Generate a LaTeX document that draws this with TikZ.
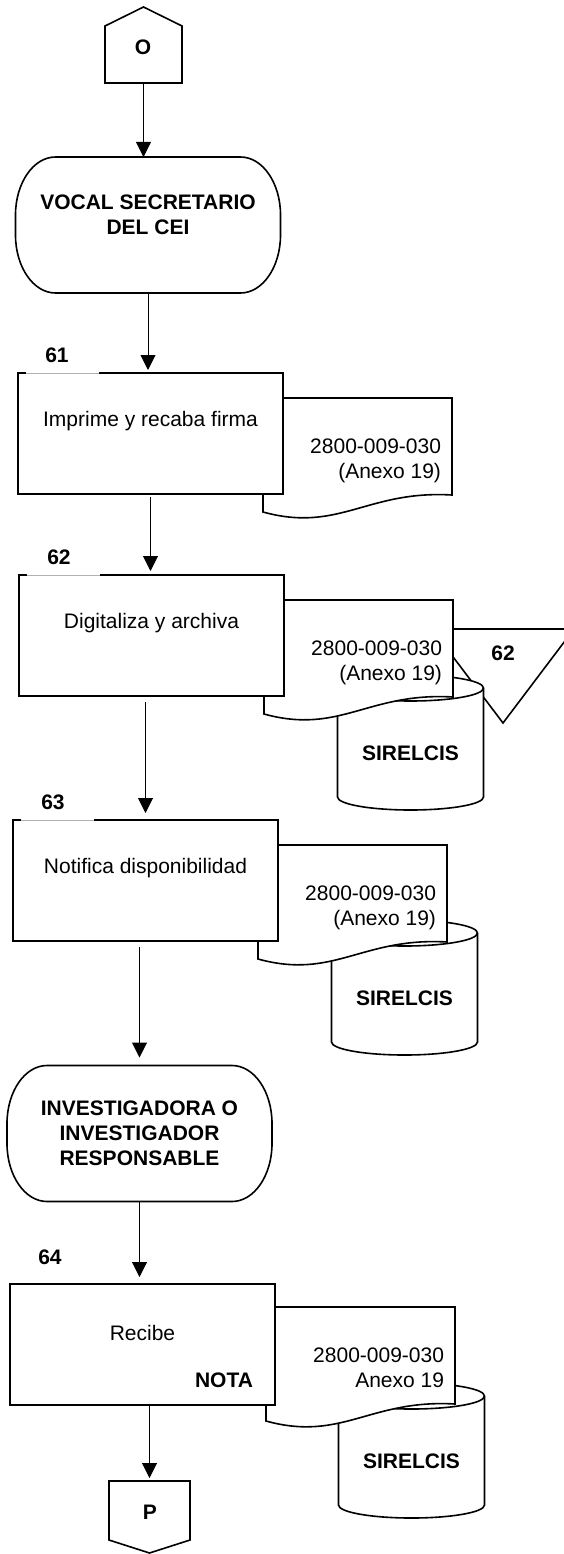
\documentclass[tikz,border=0pt]{standalone}
\usepackage{fontspec}
\setmainfont{Liberation Sans}
\usetikzlibrary{arrows.meta}

% outline of a terminator with elliptical corners
\newcommand\drawterminal[1]{%
  \draw[shapeline] ([xshift=40pt]#1.north west) -- ([xshift=-40pt]#1.north east)
    arc[start angle=90, end angle=0, x radius=40pt, y radius=58pt]
    -- ([yshift=58pt]#1.south east)
    arc[start angle=0, end angle=-90, x radius=40pt, y radius=58pt]
    -- ([xshift=40pt]#1.south west)
    arc[start angle=270, end angle=180, x radius=40pt, y radius=58pt]
    -- ([yshift=-58pt]#1.north west)
    arc[start angle=180, end angle=90, x radius=40pt, y radius=58pt] -- cycle;}
% document symbol with a wavy lower edge
\newcommand\drawdoc[1]{%
  \draw[shapeline] (#1.south east) -- (#1.north east) -- (#1.north west)
    -- ([yshift=-17pt]#1.south west)
    .. controls ([xshift=76pt,yshift=-38pt]#1.south west) and ([xshift=104pt,yshift=5pt]#1.south west) .. (#1.south east)
    -- cycle;}
% database cylinder
\newcommand\drawcyl[1]{%
  \draw[shapeline] ([yshift=13pt]#1.south west) -- ([yshift=-13pt]#1.north west)
    arc[start angle=180, end angle=0, x radius=73pt, y radius=13pt]
    -- ([yshift=13pt]#1.south east)
    arc[start angle=0, end angle=-180, x radius=73pt, y radius=13pt] -- cycle;
  \draw[shapeline, fill=none] ([yshift=-13pt]#1.north east)
    arc[start angle=0, end angle=-180, x radius=73pt, y radius=13pt];}
\newcommand\drawbox[1]{\draw[shapeline] (#1.north west) rectangle (#1.south east);}

\begin{document}
\begin{tikzpicture}[x=1pt, y=-1pt,
  every node/.style={inner sep=0pt, outer sep=0pt},
  box/.style={rectangle, minimum width=265pt, minimum height=121pt},
  docgeo/.style={rectangle, anchor=north west, minimum width=189pt, minimum height=97pt},
  cyl/.style={rectangle, minimum width=146pt, minimum height=135pt},
  term/.style={rectangle, minimum width=265pt, minimum height=136pt},
  shapeline/.style={draw=black, line width=1.6pt, fill=white},
  flow/.style={draw=black, line width=1pt, -{Triangle[width=15pt,length=15pt]}},
  bodytext/.style={font=\fontsize{21pt}{25pt}\selectfont},
  boldtext/.style={font=\fontsize{21pt}{25pt}\selectfont\bfseries},
  doctext/.style={bodytext, anchor=north east, align=right},
  gapline/.style={draw=gray!60, line width=0.6pt, preaction={draw=white, line width=2.4pt}}]

\useasboundingbox[fill=white] (0,0) rectangle (563,1554);

% ---- geometry of the symbols
\node[rectangle, minimum width=77pt, minimum height=76pt] (O) at (143.5,45) {};
\node[term] (vocal) at (148,225) {};
\node[box] (s61) at (150.5,433.5) {};
\node[docgeo] (d61) at (263,398) {};
\node[box] (s62) at (151.5,635.5) {};
\node[docgeo] (d62) at (264,600) {};
\node[cyl] (c62) at (410.5,742.5) {};
\node[rectangle, anchor=north west, minimum width=142pt, minimum height=94pt] (t62) at (432,629) {};
\node[box] (s63) at (145.5,880.5) {};
\node[docgeo] (d63) at (258,845) {};
\node[cyl] (c63) at (404.5,987.5) {};
\node[term] (inv) at (139.5,1133.5) {};
\node[box] (s64) at (142.5,1344.5) {};
\node[docgeo] (d64) at (266,1307) {};
\node[cyl] (c64) at (411.5,1450.5) {};
\node[rectangle, minimum width=81pt, minimum height=72pt] (P) at (149.5,1517) {};

% ---- outlines, back to front
\draw[shapeline] (O.south west) -- ([yshift=-19pt]O.north west) -- (O.north)
  -- ([yshift=-19pt]O.north east) -- (O.south east) -- cycle;
\drawterminal{vocal}
\drawdoc{d61}
\drawbox{s61}
\draw[shapeline] (t62.north west) -- (t62.north east) -- (t62.south) -- cycle;
\drawcyl{c62}
\drawdoc{d62}
\drawbox{s62}
\drawcyl{c63}
\drawdoc{d63}
\drawbox{s63}
\drawterminal{inv}
\drawcyl{c64}
\drawdoc{d64}
\drawbox{s64}
\draw[shapeline] (P.north west) -- (P.north east) -- ([yshift=13pt]P.south east)
  -- (P.south) -- ([yshift=13pt]P.south west) -- cycle;

% faded stretch of the box tops under the step numbers
\draw[gapline] ([xshift=8pt]s61.north west) -- ([xshift=81pt]s61.north west);
\draw[gapline] ([xshift=8pt]s62.north west) -- ([xshift=81pt]s62.north west);
\draw[gapline] ([xshift=8pt]s63.north west) -- ([xshift=81pt]s63.north west);

% ---- texts
\node[boldtext] (Ot) at (143,47) {O};
\node[boldtext, align=center] (vocalt) at ([yshift=10.5pt]vocal.center) {VOCAL SECRETARIO\\DEL CEI};

\node[boldtext] (n61) at ([xshift=39pt,yshift=18pt]s61.north west) {61};
\node[bodytext] (s61t) at ([yshift=12pt]s61.center) {Imprime y recaba firma};
\node[doctext] (d61t) at ([xshift=-11pt,yshift=-40.5pt]d61.north east) {2800-009-030\\(Anexo 19)};

\node[boldtext] (n62) at ([xshift=40pt,yshift=18pt]s62.north west) {62};
\node[bodytext] (s62t) at ([yshift=12pt]s62.center) {Digitaliza y archiva};
\node[doctext] (d62t) at ([xshift=-11pt,yshift=-40.5pt]d62.north east) {2800-009-030\\(Anexo 19)};
\node[boldtext] (t62t) at (503,653) {62};
\node[boldtext] (c62t) at ([yshift=-10.5pt]c62.center) {SIRELCIS};

\node[boldtext] (n63) at ([xshift=40pt,yshift=18pt]s63.north west) {63};
\node[bodytext] (s63t) at ([yshift=12pt]s63.center) {Notifica disponibilidad};
\node[doctext] (d63t) at ([xshift=-11pt,yshift=-40.5pt]d63.north east) {2800-009-030\\(Anexo 19)};
\node[boldtext] (c63t) at ([yshift=-10.5pt]c63.center) {SIRELCIS};

\node[boldtext, align=center] (invt) at (inv.center) {INVESTIGADORA O\\INVESTIGADOR\\RESPONSABLE};

\node[boldtext] (n64) at ([xshift=40pt,yshift=27pt]s64.north west) {64};
\node[bodytext] (s64t) at ([yshift=12pt]s64.center) {Recibe};
\node[boldtext, anchor=east] (s64n) at ([xshift=-22pt,yshift=25pt]s64.south east) {NOTA};
\node[doctext] (d64t) at ([xshift=-11pt,yshift=-40.5pt]d64.north east) {2800-009-030\\Anexo 19};
\node[boldtext] (c64t) at ([yshift=-10.5pt]c64.center) {SIRELCIS};

\node[boldtext] (Pt) at (150,1512) {P};

% ---- connectors
\draw[flow] (O.south) -- (O.south |- vocal.north);
\draw[flow, shorten >=3pt] (vocal.south) -- (vocal.south |- s61.north);
\draw[flow, shorten <=3pt, shorten >=4pt] (s61.south) -- (s61.south |- s62.north);
\draw[flow, shorten <=6pt, shorten >=7pt] (s63.north |- s62.south) -- (s63.north);
\draw[flow, shorten <=6pt, shorten >=8pt] (inv.north |- s63.south) -- (inv.north);
\draw[flow, shorten >=7pt] (inv.south) -- (inv.south |- s64.north);
\draw[flow, shorten >=3pt] (P.north |- s64.south) -- (P.north);
\end{tikzpicture}
\end{document}
